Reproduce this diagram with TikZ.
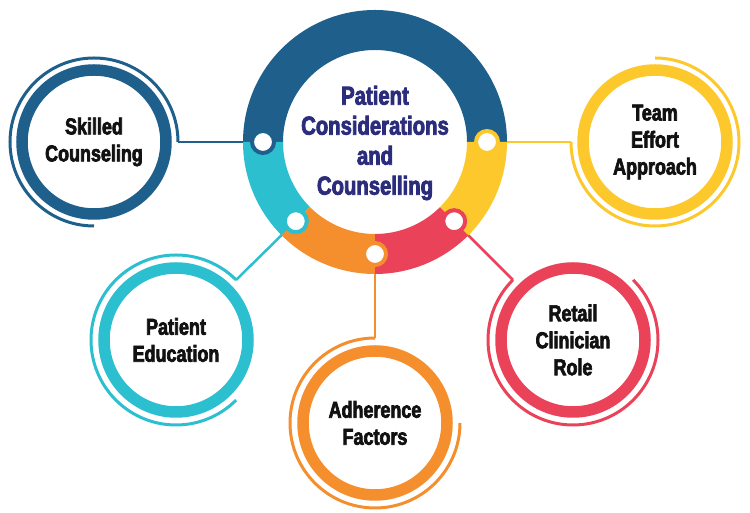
\documentclass[tikz,border=0pt]{standalone}
\usepackage{fontspec}
\newfontfamily\condfont[FakeStretch=0.78,FakeBold=3]{Liberation Sans}
\definecolor{cblue}{HTML}{1E5F8C}
\definecolor{ccyan}{HTML}{2BBFD0}
\definecolor{corange}{HTML}{F58F2D}
\definecolor{cred}{HTML}{EA4359}
\definecolor{cyellow}{HTML}{FDC82C}
\definecolor{cnavy}{HTML}{2B2D7C}
\definecolor{ctext}{HTML}{111111}
\tikzset{
  seg/.style={fill=#1},
  dotnode/.style={circle, draw=#1, line width=4pt, fill=white, minimum size=22pt, inner sep=0pt},
  link/.style={draw=#1, line width=2.5pt},
  thickring/.style={draw=#1, line width=11.5pt},
  thinarc/.style={draw=#1, line width=3pt},
  sattext/.style={align=center, text=ctext, font=\condfont\bfseries\fontsize{23}{27}\selectfont},
  titletext/.style={align=center, text=cnavy, font=\condfont\bfseries\fontsize{26}{30}\selectfont}
}
\newcommand{\annseg}[4]{% centre name, start, end, color
  \fill[seg=#4] ([shift={(#2:132pt)}]#1) arc[start angle=#2, end angle=#3, radius=132pt]
    -- ([shift={(#3:92pt)}]#1) arc[start angle=#3, end angle=#2, radius=92pt] -- cycle;}
\begin{document}
\begin{tikzpicture}[x=1pt,y=1pt]
\useasboundingbox (0,0) rectangle (750,513);
\coordinate (M) at (375,371);
% satellite centres
\coordinate (cS) at (94,371);
\coordinate (cT) at (655,371);
\coordinate (cP) at (176,173);
\coordinate (cA) at (375,90);
\coordinate (cR) at (573,173);
% arc start points
\coordinate (sS) at ([shift={(0:84)}]cS);
\coordinate (sT) at ([shift={(180:84)}]cT);
\coordinate (sP) at ([shift={(45:85)}]cP);
\coordinate (sA) at ([shift={(90:85)}]cA);
\coordinate (sR) at ([shift={(135:85)}]cR);
% dot positions
\coordinate (pB) at ([shift={(180:112)}]M);
\coordinate (pY) at ([shift={(0:112)}]M);
\coordinate (pC) at ([shift={(225:112)}]M);
\coordinate (pO) at ([shift={(270:112)}]M);
\coordinate (pR) at ([shift={(315:112)}]M);
% connectors
\draw[link=cblue] (pB) -- (sS);
\draw[link=cyellow] (pY) -- (sT);
\draw[link=ccyan] (pC) -- (sP);
\draw[link=corange] (pO) -- (sA);
\draw[link=cred] (pR) -- (sR);
% main ring
\annseg{M}{0}{180}{cblue}
\annseg{M}{180}{225}{ccyan}
\annseg{M}{225}{270}{corange}
\annseg{M}{270}{315}{cred}
\annseg{M}{315}{360}{cyellow}
% dots
\node[dotnode=cblue] (dB) at (pB) {};
\node[dotnode=cyellow] (dY) at (pY) {};
\node[dotnode=ccyan] (dC) at (pC) {};
\node[dotnode=corange] (dO) at (pO) {};
\node[dotnode=cred] (dR) at (pR) {};
\node[titletext] (title) at (375,370) {Patient\\Considerations\\and\\Counselling};
% satellites
\draw[thickring=cblue] (cS) circle[radius=72];
\draw[thinarc=cblue] (sS) arc[start angle=0, end angle=270, radius=84];
\node[sattext] (tS) at (cS) {Skilled\\Counseling};
\draw[thickring=cyellow] (cT) circle[radius=72];
\draw[thinarc=cyellow] (sT) arc[start angle=180, end angle=450, radius=84];
\node[sattext] (tT) at (cT) {Team\\Effort\\Approach};
\draw[thickring=ccyan] (cP) circle[radius=72];
\draw[thinarc=ccyan] (sP) arc[start angle=45, end angle=315, radius=85];
\node[sattext] (tP) at (cP) {Patient\\Education};
\draw[thickring=corange] (cA) circle[radius=72];
\draw[thinarc=corange] (sA) arc[start angle=90, end angle=360, radius=85];
\node[sattext] (tA) at (cA) {Adherence\\Factors};
\draw[thickring=cred] (cR) circle[radius=72];
\draw[thinarc=cred] (sR) arc[start angle=135, end angle=405, radius=85];
\node[sattext] (tR) at (cR) {Retail\\Clinician\\Role};
\end{tikzpicture}
\end{document}
